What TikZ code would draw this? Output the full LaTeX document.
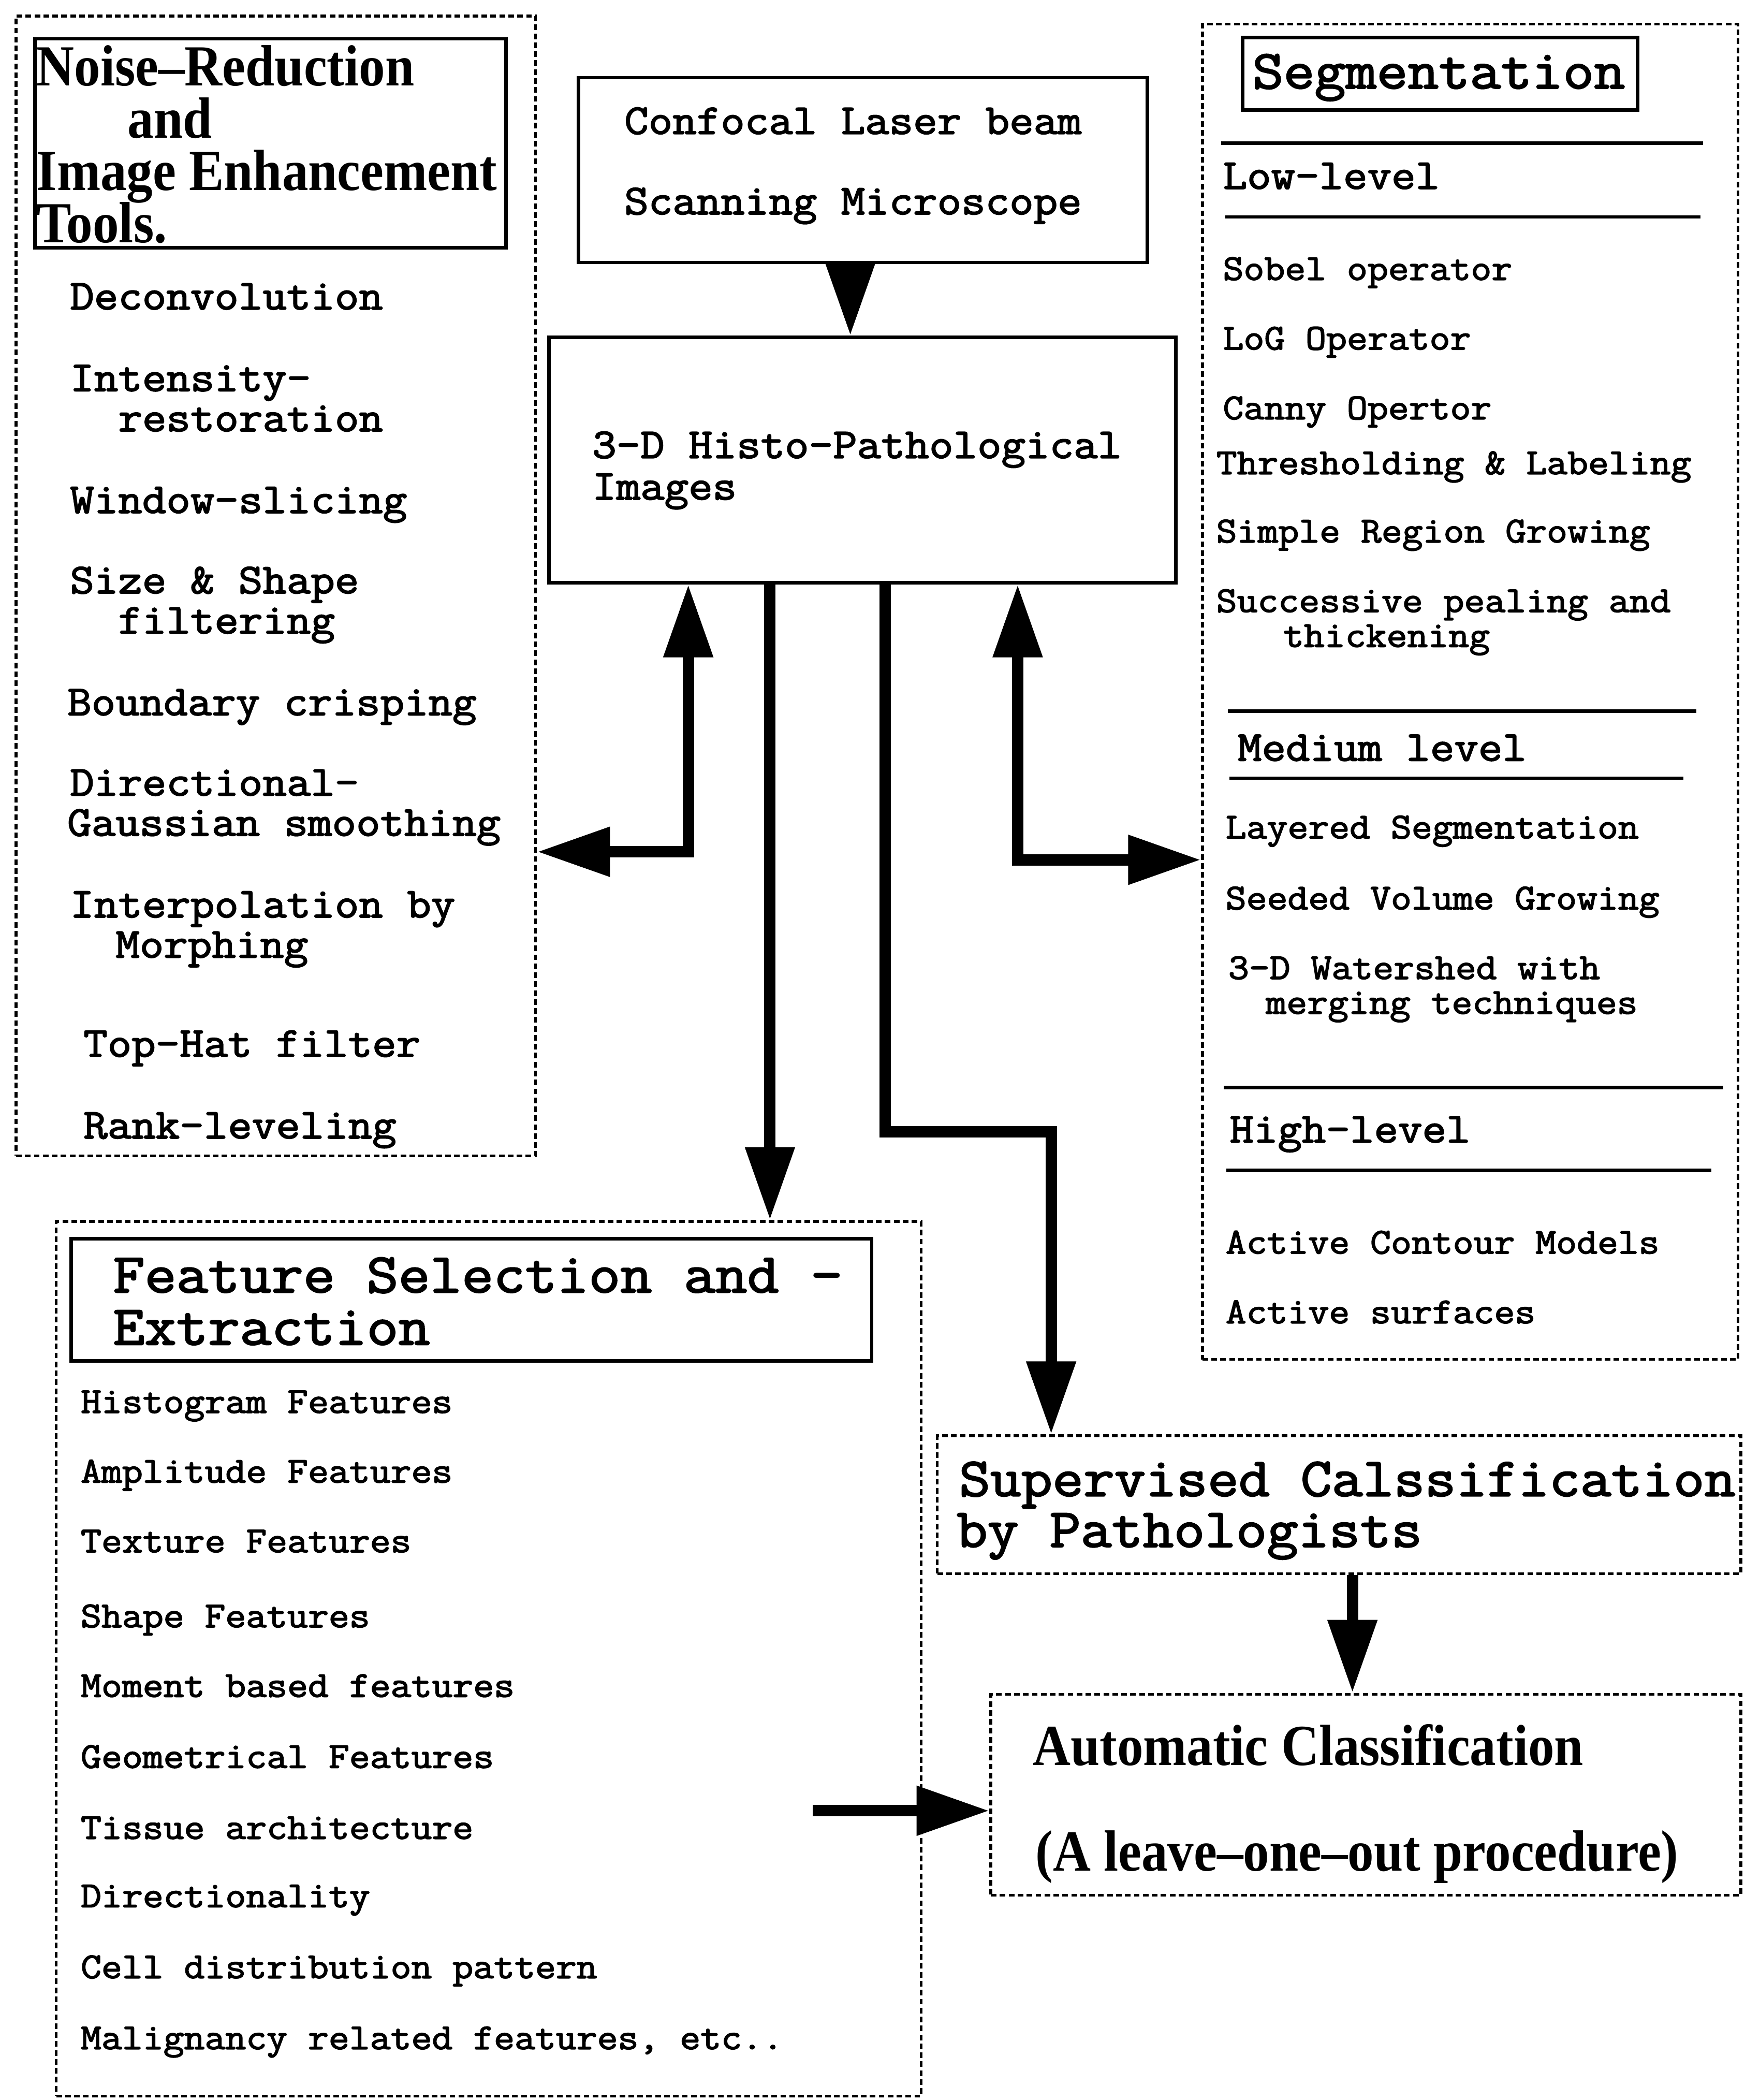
\documentclass[tikz,border=0pt]{standalone}
\usepackage{fontspec}
\usetikzlibrary{arrows.meta,fit}
\newfontfamily\tw{Latin Modern Mono}[FakeStretch=1.1,FakeBold=2.5]
\newfontfamily\ttl{Liberation Serif}[FakeStretch=0.9]
\begin{document}
\begin{tikzpicture}[x=0.02cm,y=-0.02cm,
  dotbox/.style={draw,line width=1.2pt,dash pattern=on 2.4pt off 1.4pt,inner sep=0pt},
  solidbox/.style={draw,line width=1.5pt,inner sep=0pt},
  tA/.style={anchor=base west,inner sep=0pt,font=\tw\fontsize{18.06}{20}\selectfont},
  tB/.style={anchor=base west,inner sep=0pt,font=\tw\fontsize{15.5}{17}\selectfont},
  tC/.style={anchor=base west,inner sep=0pt,font=\tw\fontsize{23.3}{25}\selectfont},
  tS/.style={anchor=base west,inner sep=0pt,text height=16.5pt,text depth=4pt,
             font=\ttl\bfseries\fontsize{24.7}{26}\selectfont},
  big/.style={line width=4.8pt,-{Triangle[length=31pt,width=20pt]}},
  bigboth/.style={line width=4.8pt,{Triangle[length=31pt,width=20pt]}-{Triangle[length=31pt,width=20pt]}},
  rule/.style={line width=1.5pt}]

\fill[white] (0,0) rectangle (1303,1568);
\useasboundingbox (0,0) rectangle (1303,1568);

% ---------- boxes ----------
\node[dotbox,fit={(12,12)(400,863)}] (noise) {};
\node[solidbox,fit={(26,29)(378,185)}] (noisehead) {};
\node[solidbox,fit={(432,58)(857,196)}] (conf) {};
\node[solidbox,fit={(410,252)(878,435)}] (img) {};
\node[dotbox,fit={(898,18)(1298,1015)}] (seg) {};
\node[solidbox,fit={(928,28)(1223,82)}] (seghead) {};
\node[dotbox,fit={(42,912)(688,1565)}] (feat) {};
\node[solidbox,fit={(53,925)(651,1016)}] (feathead) {};
\node[dotbox,fit={(700,1072)(1300,1175)}] (sup) {};
\node[dotbox,fit={(740,1265)(1300,1415)}] (auto) {};

% ---------- noise reduction ----------
\node[tS] (nh1) at (27,64) {Noise–Reduction};
\node[tS] (nh2) at (95,103) {and};
\node[tS] (nh3) at (27,142) {Image Enhancement};
\node[tS] (nh4) at (27,181) {Tools.};

\node[tA] (n1) at (52,231) {Deconvolution};
\node[tA] (n2a) at (52,292) {Intensity-};
\node[tA] (n2b) at (88,322) {restoration};
\node[tA] (n3) at (52,383) {Window-slicing};
\node[tA] (n4a) at (52,443) {Size \& Shape};
\node[tA] (n4b) at (88,473) {filtering};
\node[tA] (n5) at (50,534) {Boundary crisping};
\node[tA] (n6a) at (52,594) {Directional-};
\node[tA] (n6b) at (50,624) {Gaussian smoothing};
\node[tA] (n7a) at (52,685) {Interpolation by};
\node[tA] (n7b) at (86,715) {Morphing};
\node[tA] (n8) at (62,789) {Top-Hat filter};
\node[tA] (n9) at (62,850) {Rank-leveling};

% ---------- microscope / images ----------
\node[tA] (c1) at (466,100) {Confocal Laser beam};
\node[tA] (c2) at (466,160) {Scanning Microscope};
\node[tA] (i1) at (442,342) {3-D Histo-Pathological};
\node[tA] (i2) at (442,373) {Images};

% ---------- segmentation ----------
\node[tC] (sh) at (935,66) {Segmentation};
\draw[rule] (912,107) -- (1272,107);
\node[tA] (low) at (913,141) {Low-level};
\draw[rule] (915,162) -- (1270,162);
\node[tB] (s1) at (913,209) {Sobel operator};
\node[tB] (s2) at (913,261) {LoG Operator};
\node[tB] (s3) at (913,313) {Canny Opertor};
\node[tB] (s4) at (908,354) {Thresholding \& Labeling};
\node[tB] (s5) at (908,405) {Simple Region Growing};
\node[tB] (s6a) at (908,457) {Successive pealing and};
\node[tB] (s6b) at (958,483) {thickening};
\draw[rule] (917,531) -- (1267,531);
\node[tA] (med) at (924,568) {Medium level};
\draw[rule] (918,581) -- (1257,581);
\node[tB] (m1) at (915,626) {Layered Segmentation};
\node[tB] (m2) at (915,679) {Seeded Volume Growing};
\node[tB] (m3a) at (917,731) {3-D Watershed with};
\node[tB] (m3b) at (945,757) {merging techniques};
\draw[rule] (914,812) -- (1287,812);
\node[tA] (high) at (918,853) {High-level};
\draw[rule] (916,874) -- (1278,874);
\node[tB] (h1) at (915,936) {Active Contour Models};
\node[tB] (h2) at (915,988) {Active surfaces};

% ---------- features ----------
\node[tC,font=\tw\fontsize{23.8}{25}\selectfont] (fh1) at (84,965) {Feature Selection and -};
\node[tC,font=\tw\fontsize{23.8}{25}\selectfont] (fh2) at (84,1004) {Extraction};
\node[tB] (f1) at (60,1055) {Histogram Features};
\node[tB] (f2) at (60,1107) {Amplitude Features};
\node[tB] (f3) at (60,1159) {Texture Features};
\node[tB] (f4) at (60,1215) {Shape Features};
\node[tB] (f5) at (60,1267) {Moment based features};
\node[tB] (f6) at (60,1320) {Geometrical Features};
\node[tB] (f7) at (60,1373) {Tissue architecture};
\node[tB] (f8) at (60,1424) {Directionality};
\node[tB] (f9) at (60,1477) {Cell distribution pattern};
\node[tB] (f10) at (60,1530) {Malignancy related features, etc..};

% ---------- classification ----------
\node[tC] (sp1) at (716,1117) {Supervised Calssification};
\node[tC] (sp2) at (714,1155) {by Pathologists};
\node[tS] (a1) at (771,1318) {Automatic Classification};
\node[tS] (a2) at (773,1397) {(A leave–one–out procedure)};

% ---------- connectors ----------
\draw[big] (635,0 |- conf.south) -- (635,0 |- img.north);
\draw[bigboth] (514,0 |- img.south) -- (514,636) -- (noise.east |- 0,636);
\draw[bigboth] (760,0 |- img.south) -- (760,642) -- (seg.west |- 0,642);
\draw[big] (575,0 |- img.south) -- (575,0 |- feat.north);
\draw[big] (661,0 |- img.south) -- (661,845) -- (785,845) -- (785,0 |- sup.north);
\draw[big] (1010,0 |- sup.south) -- (1010,0 |- auto.north);
\coordinate (fx) at (607,1352);
\draw[big] (fx) -- (auto.west |- fx);
\end{tikzpicture}
\end{document}
